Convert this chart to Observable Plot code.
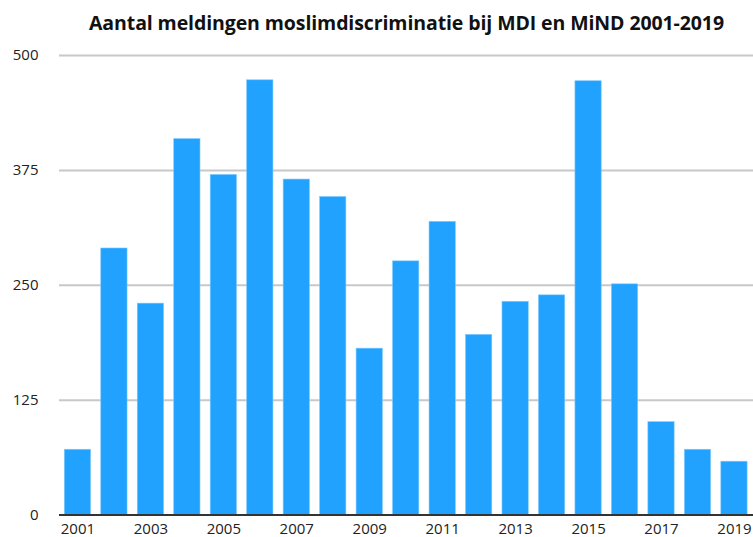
<!DOCTYPE html>
<html>
<head>
<meta charset="utf-8">
<script src="https://cdn.jsdelivr.net/npm/d3@7"></script>
<script src="https://cdn.jsdelivr.net/npm/@observablehq/plot@0.6"></script>
<style>
  html, body { margin: 0; padding: 0; background: #fff; overflow: hidden; }
  #wrap { width: 753px; height: 537px; position: relative; }
  #title { height: 45px; box-sizing: border-box; padding-top: 9px; padding-left: 60px; text-align: center;
    font-family: "Open Sans", sans-serif; font-weight: 700; font-size: 19.5px; color: #111; letter-spacing: -0.1px; white-space: nowrap; }
  svg { display: block; overflow: visible; }
</style>
</head>
<body>
<div id="wrap">
  <div id="title">Aantal meldingen moslimdiscriminatie bij MDI en MiND 2001-2019</div>
  <div id="chart"></div>
</div>
<script>
const years = [2001,2002,2003,2004,2005,2006,2007,2008,2009,2010,2011,2012,2013,2014,2015,2016,2017,2018,2019];
const meldingen = [71,290,230,409,370,473,365,346,181,276,319,196,232,239,472,251,101,71,58];
const yTicks = [0,125,250,375,500];
const data = years.map((y,i) => ({year: y, value: meldingen[i]}));

const chart = Plot.plot({
  width: 753,
  height: 492,
  marginTop: 10,
  marginBottom: 22.5,
  marginLeft: 59,
  marginRight: 0,
  style: {fontFamily: "Open Sans, sans-serif", fontSize: "15px", color: "#222", background: "#fff"},
  x: {type: "band", domain: years, range: [54.1, 757.3], padding: 0.28, round: false, label: null},
  y: {domain: [0, 500], label: null},
  marks: [
    Plot.ruleY(yTicks.filter(d => d > 0), {stroke: "#c8c8c8", strokeWidth: 2}),
    Plot.barY(data, {x: "year", y: "value", fill: "#21a2ff", stroke: "#7cc9ff", strokeWidth: 0.6}),
    Plot.ruleY([0], {stroke: "#333", strokeWidth: 2}),
    Plot.axisY({ticks: yTicks, tickSize: 0, tickPadding: 21, label: null, fontSize: 15}),
    Plot.axisX({tickSize: 0, tickPadding: 8, label: null, fontSize: 15,
      tickFormat: d => (d % 2 === 1 ? String(d) : "")})
  ]
});
document.getElementById("chart").appendChild(chart);
</script>
</body>
</html>
